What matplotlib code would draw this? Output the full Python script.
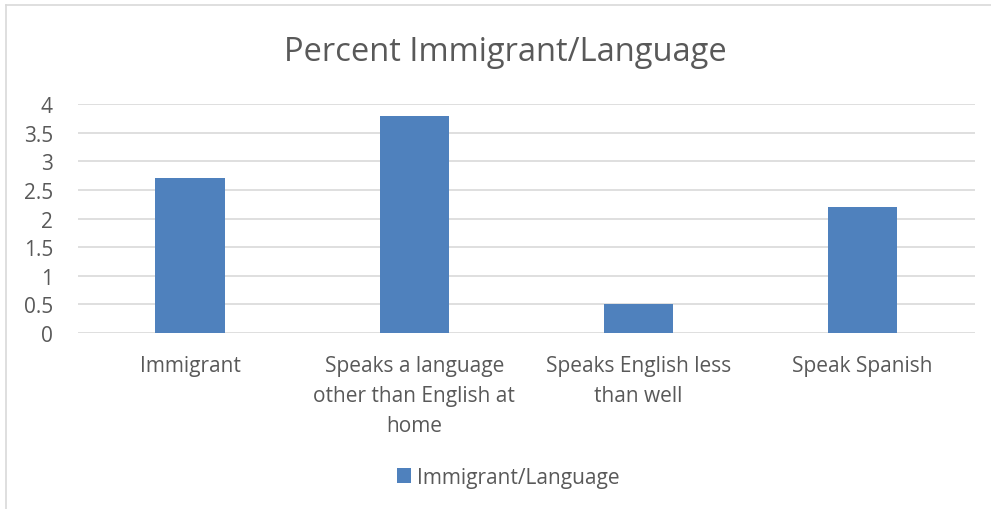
import matplotlib.pyplot as plt
import matplotlib.lines as mlines
from matplotlib.patches import Patch

categories = ["Immigrant",
              "Speaks a language\nother than English at\nhome",
              "Speaks English less\nthan well",
              "Speak Spanish"]
values = [2.7, 3.8, 0.5, 2.2]
series_name = "Immigrant/Language"
title = "Percent Immigrant/Language"
yticks = [0, 0.5, 1, 1.5, 2, 2.5, 3, 3.5, 4]
ytick_labels = ["0", "0.5", "1", "1.5", "2", "2.5", "3", "3.5", "4"]

bar_color = "#4f81bd"
text_color = "#595959"
grid_color = "#d9d9d9"

plt.rcParams['font.family'] = ['Open Sans', 'DejaVu Sans']

fig = plt.figure(figsize=(9.91, 5.10), dpi=100)
ax = fig.add_axes([0.0787, 0.345, 0.905, 0.449])

x = range(len(categories))
ax.bar(x, values, width=0.31, color=bar_color, zorder=3)

ax.set_xlim(-0.5, len(categories) - 0.5)
ax.set_ylim(0, 4)
ax.set_yticks(yticks)
ax.set_yticklabels(ytick_labels)
ax.set_xticks(list(x))
ax.set_xticklabels(categories, linespacing=1.54)

ax.tick_params(axis='y', length=0, pad=18, labelsize=15, labelcolor=text_color)
ax.tick_params(axis='x', length=0, pad=16, labelsize=15, labelcolor=text_color)

ax.grid(axis='y', color=grid_color, linewidth=1.2, zorder=0)
for s in ax.spines.values():
    s.set_visible(False)

fig.text(0.51, 0.898, title, ha='center', va='center', fontsize=23.5, color=text_color)

handle = Patch(facecolor=bar_color, edgecolor='none')
fig.legend([handle], [series_name], loc='center', bbox_to_anchor=(0.513, 0.062),
           frameon=False, fontsize=15, labelcolor=text_color,
           handlelength=0.7, handleheight=0.7, handletextpad=0.3)

# outer chart border (top and left edges visible)
fig.add_artist(mlines.Line2D([0.0065, 1.0], [0.988, 0.988], color=grid_color, linewidth=1.2,
                             transform=fig.transFigure))
fig.add_artist(mlines.Line2D([0.0065, 0.0065], [0.0, 0.988], color=grid_color, linewidth=1.2,
                             transform=fig.transFigure))

fig.savefig("out.png", dpi=100)
